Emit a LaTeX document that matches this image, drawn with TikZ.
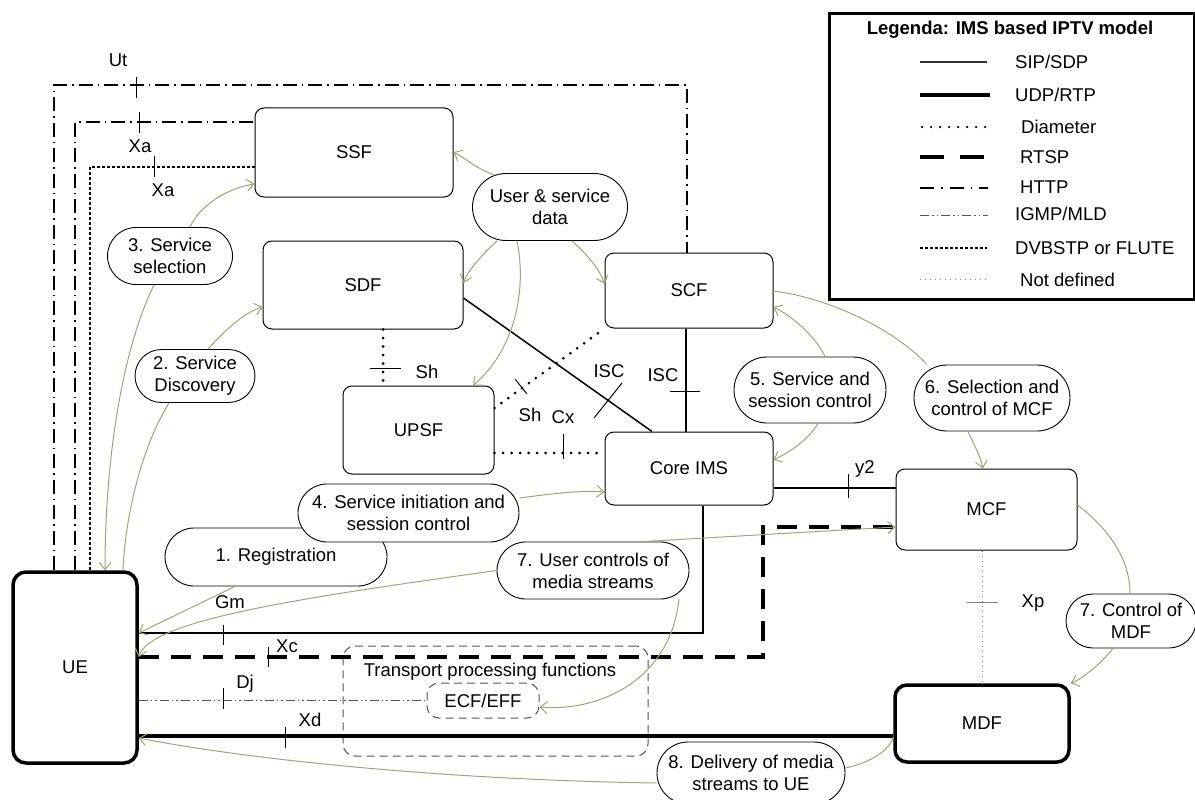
\documentclass[tikz,border=0pt]{standalone}
\usepackage{fontspec}
\setmainfont{Liberation Sans}
\usetikzlibrary{arrows.meta,shapes.misc}
\definecolor{gline}{RGB}{155,168,110}
\definecolor{tpgray}{RGB}{85,85,85}
\begin{document}
\begin{tikzpicture}[x=1pt,y=-1pt,
  every node/.style={font=\fontsize{18.5}{22}\selectfont},
  box/.style={draw, rounded corners=9pt, line width=1pt, inner sep=0pt},
  oval/.style={draw, rounded rectangle, line width=0.9pt, fill=white, inner sep=0pt, align=center},
  lbl/.style={inner sep=0pt},
  tpdash/.style={draw=tpgray, line width=1pt, dash pattern=on 8pt off 5pt, rounded corners=12pt, inner sep=0pt},
  garr/.style={draw=gline, line width=1pt, -{Straight Barb[length=7pt,width=12pt]}},
  gln/.style={draw=gline, line width=1pt},
  sip/.style={line width=1.5pt},
  udp/.style={line width=4.5pt},
  diam/.style={line width=3pt, line cap=round, dash pattern=on 0pt off 8.5pt},
  rtsp/.style={line width=3.5pt, dash pattern=on 20pt off 12pt},
  http/.style={line width=1.8pt, dash pattern=on 14pt off 5pt on 1.5pt off 5pt},
  igmp/.style={line width=1pt, draw=tpgray, dash pattern=on 9pt off 3pt on 1.5pt off 3pt on 1.5pt off 3pt},
  dvb/.style={line width=1.6pt, dash pattern=on 3pt off 2pt},
  nodef/.style={line width=0.9pt, draw=gray, dash pattern=on 1pt off 4pt},
  tk/.style={line width=1pt},
]
\useasboundingbox (0,0) rectangle (1195,800);

% ---------- main boxes ----------
\node[box, line width=3.5pt, rounded corners=13pt, minimum width=124, minimum height=191] (ue) at (75,667.5) {UE};
\node[box, minimum width=198, minimum height=89] (ssf) at (354,152.5) {SSF};
\node[box, minimum width=200, minimum height=88] (sdf) at (363,285) {SDF};
\node[box, minimum width=168, minimum height=75] (scf) at (689,290.5) {SCF};
\node[box, minimum width=151, minimum height=88] (upsf) at (418.5,430) {UPSF};
\node[box, minimum width=168, minimum height=73] (core) at (689,468.5) {Core IMS};
\node[box, minimum width=181, minimum height=81] (mcf) at (986.5,509.5) {MCF};
\node[box, line width=3.5pt, rounded corners=12pt, minimum width=174, minimum height=77] (mdf) at (982,723.5) {MDF};

% transport processing functions
\node[tpdash, minimum width=305, minimum height=110] (tpf) at (495.5,701) {};
\node[lbl] (tpft) at (490,672) {Transport processing functions};
\node[tpdash, minimum width=112, minimum height=35] (ecf) at (483,700.5) {ECF/EFF};

% ---------- interfaces ----------
\coordinate (ut1) at (54,85);
\coordinate (ut2) at (687,85);
\draw[http] (ue.north -| ut1) -- (ut1) -- (ut2) -- (scf.north -| ut2);
\coordinate (xa1) at (75,122);
\draw[http] (ue.north -| xa1) -- (xa1) -- (ssf.west |- xa1);
\coordinate (xa2) at (90,167);
\draw[dvb] (ue.north -| xa2) -- (xa2) -- (ssf.west |- xa2);

\draw[diam] (sdf.south -| 383,0) -- (upsf.north -| 383,0);
\draw[diam] (upsf.east |- 0,408) -- (scf.south west);
\draw[diam] (upsf.east |- 0,453) -- (core.west |- 0,453);
\draw[sip] (sdf.east |- 0,298) -- (core.north -| 652,0);
\draw[sip] (scf.south -| 686,0) -- (core.north -| 686,0);
\draw[sip] (core.east |- 0,488) -- (mcf.west |- 0,488);
\coordinate (gm) at (703,633);
\draw[sip] (core.south -| gm) -- (gm) -- (ue.east |- gm);
\coordinate (r1) at (763,657);
\coordinate (r2) at (763,527);
\draw[rtsp] (ue.east |- r1) -- (r1) -- (r2) -- (mcf.west |- r2);
\draw[igmp] (ue.east |- ecf.west) -- (ecf.west);
\draw[udp] (ue.east |- 0,736) -- (mdf.west |- 0,736);
\draw[nodef] (mcf.south -| 982,0) -- (mdf.north -| 982,0);

% ticks
\draw[tk] (136,77) -- (136,98);
\draw[tk] (139,112) -- (139,133);
\draw[tk] (154,156) -- (154,177);
\draw[tk] (370,368) -- (401,368);
\draw[tk] (515,379) -- (527,394);
\draw[tk] (563,434) -- (563,459);
\draw[tk] (622,383) -- (594,418);
\draw[tk] (670,391) -- (700,391);
\draw[tk] (848,474) -- (848,498);
\draw[tk] (223,625) -- (223,645);
\draw[tk] (268,647) -- (268,667);
\draw[tk] (223,688) -- (223,709);
\draw[tk] (285,727) -- (285,748);
\draw[tk, draw=gray] (967,602) -- (998,602);

% interface labels
\node[lbl] (lut) at (118,60) {Ut};
\node[lbl] (lxa1) at (140,146) {Xa};
\node[lbl] (lxa2) at (163,190) {Xa};
\node[lbl] (lsh1) at (427,372) {Sh};
\node[lbl] (lsh2) at (530,415) {Sh};
\node[lbl] (lcx) at (563,417) {Cx};
\node[lbl] (lisc1) at (609,371) {ISC};
\node[lbl] (lisc2) at (663,375) {ISC};
\node[lbl] (ly2) at (865,469) {y2};
\node[lbl] (lgm) at (230,602) {Gm};
\node[lbl] (lxc) at (287,646) {Xc};
\node[lbl] (ldj) at (245,684) {Dj};
\node[lbl] (lxd) at (310,720) {Xd};
\node[lbl] (lxp) at (1033,603) {Xp};

% ---------- ovals ----------
\node[oval, minimum width=155, minimum height=67] (usd) at (550,207) {User \& service\\data};
\node[oval, minimum width=125, minimum height=57] (o3) at (170,256) {3. Service\\selection};
\node[oval, minimum width=120, minimum height=53] (o2) at (195,376) {2. Service\\Discovery};
\node[oval, minimum width=152, minimum height=66] (o5) at (810,390) {5. Service and\\session control};
\node[oval, minimum width=156, minimum height=66] (o6) at (992,398) {6. Selection and\\control of MCF};
\node[oval, minimum width=222, minimum height=58] (o1) at (276,557) {1. Registration};
\node[oval, minimum width=221, minimum height=58] (o4) at (408.5,513) {4. Service initiation and\\session control};
\node[oval, minimum width=192, minimum height=57] (o7u) at (593,570.5) {7. User controls of\\media streams};
\node[oval, minimum width=130, minimum height=54] (o7c) at (1131,621) {7. Control of\\MDF};
\node[oval, minimum width=188, minimum height=62] (o8) at (751,773) {8. Delivery of media\\streams to UE};

% ---------- green flows ----------
\draw[garr] (o3.north -| 190,0) .. controls (200,205) and (228,188) .. (ssf.west |- 0,184);
\draw[garr] (o3.south -| 154,0) .. controls (122,350) and (105,460) .. (ue.north -| 105,0);
\draw[garr] (o2.north -| 208,0) .. controls (225,330) and (245,312) .. (sdf.west |- 0,307);
\draw[gln] (o2.south -| 169,0) .. controls (140,450) and (125,520) .. (ue.north -| 123,0);
\draw[garr] (usd.150) .. controls (475,168) and (465,158) .. (ssf.east |- 0,152);
\draw[garr] (usd.south -| 497,0) .. controls (482,255) and (468,270) .. (sdf.east |- 0,283);
\draw[garr] (usd.south -| 517,0) .. controls (527,290) and (515,350) .. (upsf.north -| 473,0);
\draw[garr] (usd.south -| 572,0) .. controls (588,255) and (600,270) .. (scf.west |- 0,284);
\draw[gln] (scf.east |- 0,291) .. controls (830,298) and (895,330) .. (o6.north -| 927,0);
\draw[garr] (o5.north -| 825,0) .. controls (815,335) and (790,315) .. (scf.east |- 0,307);
\draw[garr] (o5.south -| 818,0) .. controls (808,440) and (790,452) .. (core.east |- 0,460);
\draw[garr] (o6.south -| 968,0) .. controls (974,445) and (980,455) .. (mcf.north -| 983,0);
\draw[garr] (o4.east |- 0,498) .. controls (550,494) and (580,490) .. (core.west |- 0,492);
\draw[garr] (o1.south -| 235,0) -- (ue.east |- 0,633);
\draw[garr] (o7u.west) .. controls (300,598) and (150,620) .. (ue.east |- 0,657);
\draw[garr] (o7u.30) -- (mcf.west |- 0,527);
\draw[garr] (o7u.south -| 679,0) .. controls (670,680) and (600,712) .. (ecf.east |- 0,707);
\draw[gln] (mcf.east |- 0,505) .. controls (1110,530) and (1130,560) .. (o7c.north -| 1130,0);
\draw[garr] (o7c.south -| 1113,0) .. controls (1100,665) and (1080,680) .. (mdf.north east);
\draw[gln] (o8.east |- 0,768) .. controls (870,763) and (890,750) .. (mdf.west |- 0,737);
\draw[garr] (o8.west |- 0,783) .. controls (450,780) and (250,760) .. (ue.east |- 0,738);

% ---------- legend ----------
\node[draw, line width=3pt, minimum width=365, minimum height=286, inner sep=0pt, anchor=north west] (leg) at (828,12) {};
\node[font=\bfseries\fontsize{18.5}{22}\selectfont] (legt) at (1010,30) {Legenda: IMS based IPTV model};
\draw[line width=1.2pt, draw=black!80] (920,62) -- (987,62);
\node[anchor=west, inner sep=0pt] (lg1) at (1015,62) {SIP/SDP};
\draw[line width=4.5pt] (920,95) -- (990,95);
\node[anchor=west, inner sep=0pt] (lg2) at (1015,95) {UDP/RTP};
\draw[line width=2.5pt, line cap=round, dash pattern=on 0pt off 9pt] (922,127) -- (985,127);
\node[anchor=west, inner sep=0pt] (lg3) at (1021,127) {Diameter};
\draw[line width=3.5pt, dash pattern=on 24pt off 16pt] (920,157) -- (988,157);
\node[anchor=west, inner sep=0pt] (lg4) at (1020,157) {RTSP};
\draw[line width=1.8pt, dash pattern=on 14pt off 7pt on 1.5pt off 7pt] (920,188) -- (988,188);
\node[anchor=west, inner sep=0pt] (lg5) at (1020,187) {HTTP};
\draw[line width=1pt, draw=tpgray, dash pattern=on 9pt off 3pt on 1.5pt off 3pt on 1.5pt off 3pt] (920,215) -- (988,215);
\node[anchor=west, inner sep=0pt] (lg6) at (1015,214) {IGMP/MLD};
\draw[line width=1.6pt, dash pattern=on 3pt off 2pt] (920,248) -- (987,248);
\node[anchor=west, inner sep=0pt] (lg7) at (1015,248) {DVBSTP or FLUTE};
\draw[line width=0.9pt, draw=gray, dash pattern=on 1pt off 4pt] (920,279) -- (987,279);
\node[anchor=west, inner sep=0pt] (lg8) at (1020,280) {Not defined};
\end{tikzpicture}
\end{document}
